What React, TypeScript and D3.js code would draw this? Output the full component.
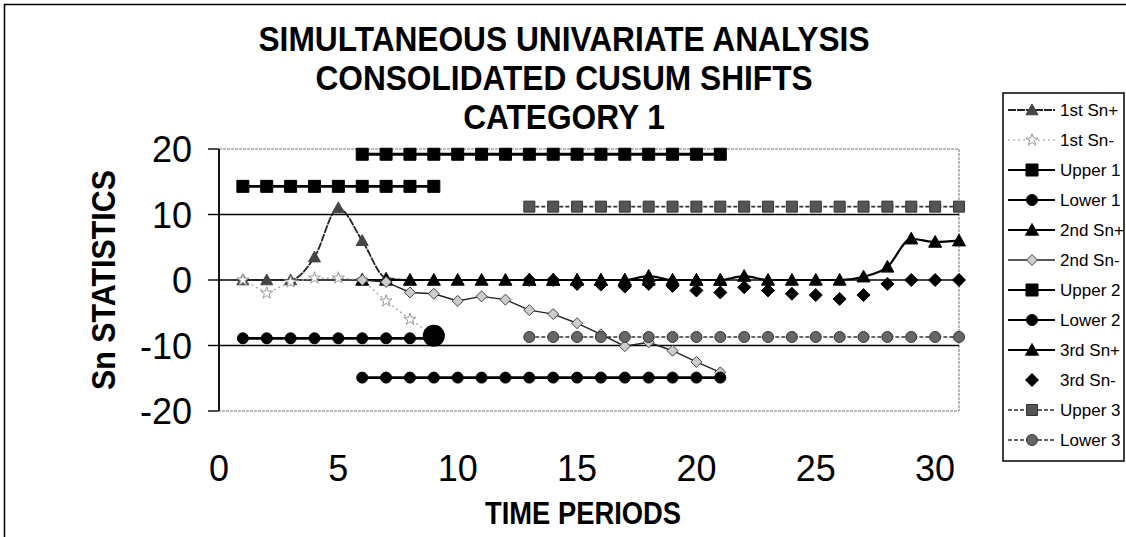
import React from "react";
import * as d3 from "d3";

// ---- data ----
const xs1 = [1, 2, 3, 4, 5, 6, 7, 8, 9];
const firstSnPlus = [0, 0, 0, 3.5, 11, 6, 0.3, 0, 0];
const firstSnMinus = [0, -2, -0.3, 0.3, 0.3, 0, -3.2, -6, -8.5];
const upper1 = [14.3, 14.3, 14.3, 14.3, 14.3, 14.3, 14.3, 14.3, 14.3];
const lower1 = [-8.9, -8.9, -8.9, -8.9, -8.9, -8.9, -8.9, -8.9, -8.9];

const xs2 = [6, 7, 8, 9, 10, 11, 12, 13, 14, 15, 16, 17, 18, 19, 20, 21];
const secondSnPlus = [0, 0, 0, 0, 0, 0, 0, 0, 0, 0, 0, 0, 0.6, 0, 0, 0];
const secondSnMinus = [0, -0.3, -1.9, -2.1, -3.2, -2.5, -3.0, -4.6, -5.2, -6.6, -8.3, -10.1, -9.5, -10.8, -12.5, -14.1];
const upper2 = [19.2, 19.2, 19.2, 19.2, 19.2, 19.2, 19.2, 19.2, 19.2, 19.2, 19.2, 19.2, 19.2, 19.2, 19.2, 19.2];
const lower2 = [-14.9, -14.9, -14.9, -14.9, -14.9, -14.9, -14.9, -14.9, -14.9, -14.9, -14.9, -14.9, -14.9, -14.9, -14.9, -14.9];

const xs3 = [13, 14, 15, 16, 17, 18, 19, 20, 21, 22, 23, 24, 25, 26, 27, 28, 29, 30, 31];
const thirdSnPlus = [0, 0, 0, 0, 0, 0, 0, 0, 0, 0.6, 0, 0, 0, 0, 0.5, 2.0, 6.3, 5.8, 6.0];
const thirdSnMinus = [0, 0, -0.6, -0.7, -1.0, -0.6, -0.9, -1.6, -1.9, -1.1, -1.6, -2.1, -2.3, -2.9, -2.3, -0.6, 0, 0, 0];
const upper3 = [11.2, 11.2, 11.2, 11.2, 11.2, 11.2, 11.2, 11.2, 11.2, 11.2, 11.2, 11.2, 11.2, 11.2, 11.2, 11.2, 11.2, 11.2, 11.2];
const lower3 = [-8.7, -8.7, -8.7, -8.7, -8.7, -8.7, -8.7, -8.7, -8.7, -8.7, -8.7, -8.7, -8.7, -8.7, -8.7, -8.7, -8.7, -8.7, -8.7];

// highlighted signal point
const signalX = [9];
const signalY = [-8.5];

const xTicks = [0, 5, 10, 15, 20, 25, 30];
const yTicks = [20, 10, 0, -10, -20];
const gridValues = [10, 0, -10];

const titleLines = ["SIMULTANEOUS UNIVARIATE ANALYSIS", "CONSOLIDATED CUSUM SHIFTS", "CATEGORY 1"];

type Marker = "triangle" | "star" | "square" | "circle" | "diamond";
interface Series {
  name: string;
  xs: number[];
  ys: number[];
  stroke: string;
  width: number;
  dash?: string;
  marker: Marker;
  fill: string;
  mstroke: string;
  size: number;
  line: boolean;
  smooth?: boolean;
}

const series: Series[] = [
  { name: "1st Sn+", xs: xs1, ys: firstSnPlus, stroke: "#222", width: 1.8, dash: "8,1", marker: "triangle", fill: "#444", mstroke: "#444", size: 12, line: true, smooth: true },
  { name: "1st Sn-", xs: xs1, ys: firstSnMinus, stroke: "#999", width: 1.2, dash: "2,3", marker: "star", fill: "#fff", mstroke: "#999", size: 10, line: true },
  { name: "Upper 1", xs: xs1, ys: upper1, stroke: "#000", width: 2.8, marker: "square", fill: "#000", mstroke: "#000", size: 12, line: true },
  { name: "Lower 1", xs: xs1, ys: lower1, stroke: "#000", width: 2.8, marker: "circle", fill: "#000", mstroke: "#000", size: 11, line: true },
  { name: "2nd Sn+", xs: xs2, ys: secondSnPlus, stroke: "#000", width: 2.2, marker: "triangle", fill: "#000", mstroke: "#000", size: 13, line: true, smooth: true },
  { name: "2nd Sn-", xs: xs2, ys: secondSnMinus, stroke: "#222", width: 1.4, marker: "diamond", fill: "#ccc", mstroke: "#444", size: 11, line: true },
  { name: "Upper 2", xs: xs2, ys: upper2, stroke: "#000", width: 2.8, marker: "square", fill: "#000", mstroke: "#000", size: 12, line: true },
  { name: "Lower 2", xs: xs2, ys: lower2, stroke: "#000", width: 2.8, marker: "circle", fill: "#000", mstroke: "#000", size: 11, line: true },
  { name: "3rd Sn+", xs: xs3, ys: thirdSnPlus, stroke: "#000", width: 2.2, marker: "triangle", fill: "#000", mstroke: "#000", size: 13, line: true, smooth: true },
  { name: "3rd Sn-", xs: xs3, ys: thirdSnMinus, stroke: "#000", width: 0, marker: "diamond", fill: "#000", mstroke: "#000", size: 13, line: false },
  { name: "Upper 3", xs: xs3, ys: upper3, stroke: "#333", width: 1.6, dash: "4,2", marker: "square", fill: "#555", mstroke: "#333", size: 11, line: true },
  { name: "Lower 3", xs: xs3, ys: lower3, stroke: "#333", width: 1.6, dash: "4,2", marker: "circle", fill: "#666", mstroke: "#333", size: 11, line: true },
];

const FONT = "'Liberation Sans', Arial, Helvetica, sans-serif";

function markerPath(m: Marker, s: number): string {
  const h = s / 2;
  switch (m) {
    case "triangle":
      return `M0,${-h} L${h},${h * 0.8} L${-h},${h * 0.8} Z`;
    case "square":
      return `M${-h},${-h} H${h} V${h} H${-h} Z`;
    case "diamond":
      return `M0,${-h} L${h},0 L0,${h} L${-h},0 Z`;
    case "star":
      return d3.symbol(d3.symbolStar, s * s * 0.45)() || "";
    case "circle":
    default:
      return d3.symbol(d3.symbolCircle, Math.PI * h * h)() || "";
  }
}

export default function App() {
  const W = 1126;
  const H = 537;
  const x = d3.scaleLinear().domain([0, 31]).range([219, 959]);
  const y = d3.scaleLinear().domain([-20, 20]).range([411, 149]);

  const lineGen = (smooth?: boolean) =>
    d3
      .line<[number, number]>()
      .x((d) => x(d[0]))
      .y((d) => y(d[1]))
      .curve(smooth ? d3.curveMonotoneX : d3.curveLinear);

  const legX = 1003;
  const legY = 93;
  const legH = 368;
  const legStep = 30;

  return (
    <svg
      width={W}
      height={H}
      style={{ position: "absolute", left: 0, top: 0, background: "#fff" }}
      fontFamily={FONT}
    >
      <rect x={0} y={0} width={W} height={H} fill="#fff" />
      {/* outer border */}
      <rect x={4.5} y={4.5} width={W + 10} height={H + 10} fill="none" stroke="#000" strokeWidth={1.5} />

      {/* title */}
      <g transform="translate(564,0) scale(0.88,1)">
        {titleLines.map((t, i) => (
          <text key={t} x={0} y={51 + i * 39} textAnchor="middle" fontSize={36} fontWeight="bold">
            {t}
          </text>
        ))}
      </g>

      {/* plot frame (dotted) */}
      <rect
        x={x(0)}
        y={y(20)}
        width={x(31) - x(0)}
        height={y(-20) - y(20)}
        fill="none"
        stroke="#777"
        strokeWidth={1}
        strokeDasharray="3,1"
      />

      {/* gridlines */}
      {gridValues.map((v) => (
        <line key={v} x1={x(0)} x2={x(31)} y1={y(v)} y2={y(v)} stroke="#000" strokeWidth={1.4} />
      ))}

      {/* y axis */}
      <line x1={x(0)} x2={x(0)} y1={y(20)} y2={y(-20)} stroke="#000" strokeWidth={1.8} />
      {yTicks.map((v) => (
        <g key={v}>
          <line x1={x(0) - 11} x2={x(0)} y1={y(v)} y2={y(v)} stroke="#000" strokeWidth={1.4} />
          <text x={192} y={y(v) + 13} textAnchor="end" fontSize={36}>
            {v}
          </text>
        </g>
      ))}

      {/* x tick labels */}
      {xTicks.map((v) => (
        <text key={v} x={x(v)} y={481} textAnchor="middle" fontSize={36}>
          {v}
        </text>
      ))}

      {/* axis titles */}
      <text
        x={583}
        y={524}
        textAnchor="middle"
        fontSize={31}
        fontWeight="bold"
        textLength={196}
        lengthAdjust="spacingAndGlyphs"
      >
        TIME PERIODS
      </text>
      <text
        transform={`translate(115,280) rotate(-90)`}
        textAnchor="middle"
        fontSize={34}
        fontWeight="bold"
        textLength={220}
        lengthAdjust="spacingAndGlyphs"
      >
        Sn STATISTICS
      </text>

      {/* series */}
      {series.map((s) => {
        const pts: [number, number][] = s.xs.map((xv, i) => [xv, s.ys[i]]);
        return (
          <g key={s.name}>
            {s.line && (
              <path
                d={lineGen(s.smooth)(pts) || ""}
                fill="none"
                stroke={s.stroke}
                strokeWidth={s.width}
                strokeDasharray={s.dash}
              />
            )}
            {pts.map((p, i) => (
              <path
                key={i}
                d={markerPath(s.marker, s.size)}
                transform={`translate(${x(p[0])},${y(p[1])})`}
                fill={s.fill}
                stroke={s.mstroke}
                strokeWidth={1}
              />
            ))}
          </g>
        );
      })}

      {/* signal point */}
      {signalX.map((sx, i) => (
        <circle key={i} cx={x(sx)} cy={y(signalY[i])} r={11} fill="#000" />
      ))}

      {/* legend */}
      <rect x={legX} y={legY} width={121} height={legH} fill="#fff" stroke="#000" strokeWidth={1.5} />
      {series.map((s, i) => {
        const cy = legY + 17 + i * legStep;
        return (
          <g key={s.name}>
            {s.line && (
              <line
                x1={legX + 5}
                x2={legX + 52}
                y1={cy}
                y2={cy}
                stroke={s.stroke}
                strokeWidth={Math.min(s.width, 2.2)}
                strokeDasharray={s.dash}
              />
            )}
            <path
              d={markerPath(s.marker, s.size)}
              transform={`translate(${legX + 29},${cy})`}
              fill={s.fill}
              stroke={s.mstroke}
              strokeWidth={1}
            />
            <text x={legX + 57} y={cy + 6} fontSize={17}>
              {s.name}
            </text>
          </g>
        );
      })}
    </svg>
  );
}
